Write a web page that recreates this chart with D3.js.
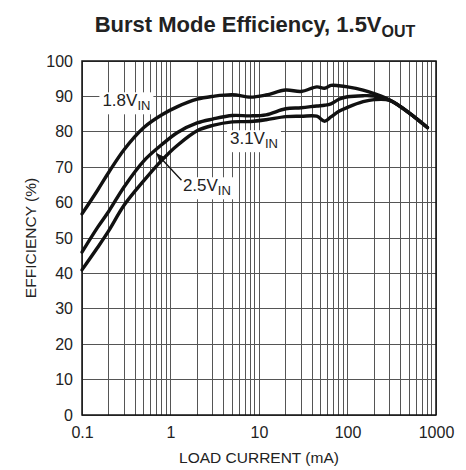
<!DOCTYPE html>
<html>
<head>
<meta charset="utf-8">
<script src="https://cdn.jsdelivr.net/npm/d3@7"></script>
<style>
  body{margin:0;background:#fff;}
  svg{display:block;}
</style>
</head>
<body>
<div id="chart"></div>
<script>
// load current (mA), shared by all three curves
const current = [0.1,0.15,0.2,0.3,0.5,0.8,1.2,2,3,5,8,12,20,30,45,55,65,80,100,150,200,300,500,800];
const eff18 = [56.8,63.5,68.5,75,81.2,84.8,87.1,89.2,90.0,90.5,89.8,90.4,91.8,91.4,92.7,92.3,93.1,93.0,92.7,91.8,90.8,89.0,85.3,81.2];
const eff25 = [46,53,57.5,64.5,71.8,76.4,79.8,82.5,83.6,84.6,84.5,84.8,86.5,86.8,87.3,87.5,87.9,89.2,89.9,90.2,90.1,88.9,85.3,81.2];
const eff31 = [41,47.3,52,59.3,66.2,72,76.2,80.3,81.8,82.8,82.9,83.4,84.3,84.4,84.4,83.0,84.2,85.8,86.9,88.5,89.1,88.9,85.3,81.2];
const xTickVals = [0.1,1,10,100,1000];
const xTickText = ["0.1","1","10","100","1000"];
const yTickVals = [0,10,20,30,40,50,60,70,80,90,100];
const seriesNames = ["1.8","2.5","3.1"];

const W=466,H=470;
const MG={t:61,r:30,b:55,l:82};
const iW=W-MG.l-MG.r, iH=H-MG.t-MG.b;
const FONT='"Liberation Sans Narrow","Arial Narrow","Liberation Sans",Arial,sans-serif';

const svg=d3.select("#chart").append("svg").attr("width",W).attr("height",H);
const g=svg.append("g").attr("transform",`translate(${MG.l},${MG.t})`);

const xSc=d3.scaleLog().domain([0.1,1000]).range([0,iW]);
const ySc=d3.scaleLinear().domain([0,100]).range([iH,0]);

// grid
const gridX=[];
[0.1,1,10,100].forEach(d=>{ for(let k=1;k<=10;k++) gridX.push(d*k); });
g.append("g").selectAll("line").data(gridX).join("line")
  .attr("x1",d=>xSc(d)).attr("x2",d=>xSc(d)).attr("y1",0).attr("y2",iH)
  .attr("stroke","#555").attr("stroke-width",1).attr("shape-rendering","crispEdges");
g.append("g").selectAll("line").data(yTickVals).join("line")
  .attr("x1",0).attr("x2",iW).attr("y1",d=>ySc(d)).attr("y2",d=>ySc(d))
  .attr("stroke","#555").attr("stroke-width",1).attr("shape-rendering","crispEdges");
g.append("rect").attr("width",iW).attr("height",iH).attr("fill","none")
  .attr("stroke","#111").attr("stroke-width",1.5);

// axes (labels only)
const xAx=g.append("g").attr("transform",`translate(0,${iH})`)
  .call(d3.axisBottom(xSc).tickValues(xTickVals).tickFormat((d,i)=>xTickText[i]).tickSize(0).tickPadding(12));
const yAx=g.append("g")
  .call(d3.axisLeft(ySc).tickValues(yTickVals).tickSize(0).tickPadding(9));
[xAx,yAx].forEach(a=>{
  a.select(".domain").remove();
  a.selectAll("text").attr("font-family",FONT).attr("font-size",16).attr("fill","#222");
});

g.append("text").attr("x",iW/2).attr("y",iH+48).attr("text-anchor","middle")
  .attr("font-family",FONT).attr("font-size",15.5).attr("fill","#222").text("LOAD CURRENT (mA)");
g.append("text").attr("transform","rotate(-90)").attr("x",-iH/2).attr("y",-46)
  .attr("text-anchor","middle").attr("font-family",FONT).attr("font-size",15.5).attr("fill","#222")
  .text("EFFICIENCY (%)");

// title
const title=svg.append("text").attr("x",255).attr("y",32).attr("text-anchor","middle")
  .attr("font-family",FONT).attr("font-weight","bold").attr("font-size",22).attr("fill","#222");
title.append("tspan").text("Burst Mode Efficiency, 1.5V");
title.append("tspan").attr("font-size",16).attr("dy",5).text("OUT");

// curves
const line=d3.line().x((_,i)=>xSc(current[i])).y(v=>ySc(v)).curve(d3.curveCatmullRom.alpha(0.5));
g.selectAll(".curve").data([eff18,eff25,eff31]).join("path")
  .attr("class","curve").attr("d",line)
  .attr("fill","none").attr("stroke","#111").attr("stroke-width",3.4)
  .attr("stroke-linejoin","round").attr("stroke-linecap","round");

// labels
function vinLabel(x,y,txt){
  const grp=g.append("g");
  const bg=grp.append("rect").attr("fill","#fff");
  const t=grp.append("text").attr("x",x).attr("y",y)
    .attr("font-family",FONT).attr("font-size",17).attr("fill","#222");
  t.append("tspan").text(txt+"V");
  t.append("tspan").attr("font-size",13).attr("dy",4).text("IN");
  const b=t.node().getBBox();
  bg.attr("x",b.x-3).attr("y",b.y+1).attr("width",b.width+6).attr("height",b.height);
  return grp;
}
vinLabel(xSc(0.17),ySc(87.2),seriesNames[0]);
vinLabel(xSc(4.7),ySc(76.5),seriesNames[2]);
vinLabel(xSc(1.38),ySc(63.2),seriesNames[1]);

// arrow to 2.5V curve
svg.append("defs").append("marker").attr("id","ah").attr("viewBox","0 0 10 10")
  .attr("refX",9).attr("refY",5).attr("markerWidth",9).attr("markerHeight",9).attr("orient","auto")
  .append("path").attr("d","M0,1 L10,5 L0,9 L3,5 Z").attr("fill","#111");
g.append("line").attr("x1",xSc(1.33)).attr("y1",ySc(66.3))
  .attr("x2",xSc(0.7)).attr("y2",ySc(73.8))
  .attr("stroke","#111").attr("stroke-width",1.3).attr("marker-end","url(#ah)");
</script>
</body>
</html>
